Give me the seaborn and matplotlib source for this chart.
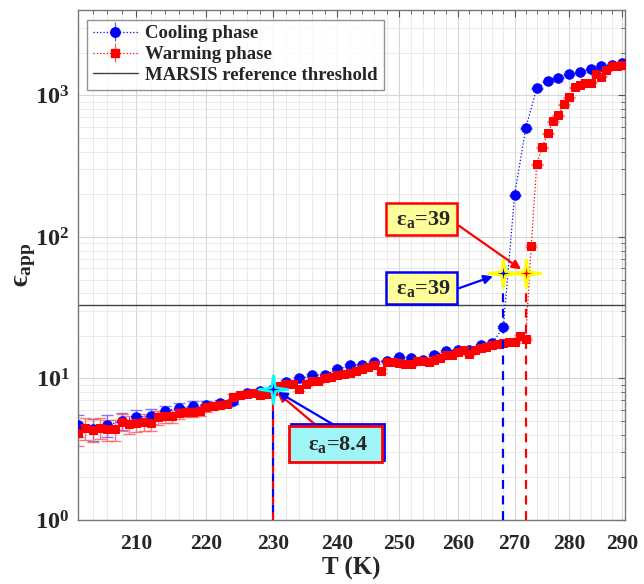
import matplotlib
matplotlib.use("Agg")
import math
import pandas as pd
import matplotlib.pyplot as plt
import seaborn as sns
from matplotlib.patches import Rectangle
from matplotlib.transforms import IdentityTransform
from matplotlib.ticker import FixedLocator, MultipleLocator, NullFormatter, FuncFormatter, LogLocator

# ---------------- DATA ----------------
# Cooling phase (every 2 K)
T_cool = [202, 204, 206, 208, 210, 212, 214, 216, 218, 220, 222, 224, 226, 228, 230,
          232, 234, 236, 238, 240, 242, 244, 246, 248, 250, 252, 254, 256, 258, 260,
          262, 264, 266, 268, 270, 272, 274, 276, 278, 280, 282, 284, 286, 288, 290]
eps_cool = [4.68, 4.39, 4.68, 5.0, 5.33, 5.42, 5.88, 6.17, 6.38, 6.5, 6.7, 6.9, 7.87, 8.1, 8.4,
            9.4, 10.0, 10.5, 10.5, 11.6, 12.4, 12.4, 13.0, 13.3, 14.1, 13.9, 13.5, 14.6, 15.6, 15.8,
            15.8, 17.2, 17.7, 23.0, 197, 584, 1119, 1254, 1337, 1405, 1451, 1524, 1600, 1626, 1707]
err_cool = [0.85, 0.75, 0.8, 0.7, 0.7, 0.65, 0.55, 0.55, 0.5, 0.45, 0.4, 0.3, 0.3, 0.3, 0.3,
            0.3, 0.3, 0.3, 0.3, 0.3, 0.3, 0.3, 0.3, 0.3, 0.3, 0.3, 0.3, 0.3, 0.3, 0.3,
            0.3, 0.3, 0.3, 0.4, 2, 5, 10, 10, 10, 10, 10, 10, 10, 10, 10]

# Warming phase (every 1 K)
T_warm = [202, 203, 204, 205, 206, 207, 208, 209, 210, 211, 212, 213, 214, 215, 216,
          217, 218, 219, 220, 221, 222, 223, 224, 225, 226, 227, 228, 229, 230, 231,
          232, 233, 234, 235, 236, 237, 238, 239, 240, 241, 242, 243, 244, 245, 246,
          247, 248, 249, 250, 251, 252, 253, 254, 255, 256, 257, 258, 259, 260, 261,
          262, 263, 264, 265, 266, 267, 268, 269, 270, 271, 272, 273, 274, 275, 276,
          277, 278, 279, 280, 281, 282, 283, 284, 285, 286, 287, 288, 289, 290]
eps_warm = [4.09, 4.48, 4.35, 4.48, 4.37, 4.37, 4.94, 4.73, 4.81, 4.92, 4.86, 5.30, 5.42, 5.42, 5.66,
            5.81, 5.81, 5.91, 6.24, 6.38, 6.50, 6.59, 7.42, 7.62, 7.80, 7.95, 7.70, 7.80, 8.10, 8.90,
            9.20, 9.10, 8.40, 9.20, 9.60, 9.60, 10.0, 10.3, 10.5, 10.8, 10.9, 11.3, 11.6, 12.1, 12.4,
            11.3, 13.1, 13.1, 12.9, 12.6, 12.6, 13.3, 13.3, 13.1, 13.6, 14.0, 14.6, 14.7, 15.4, 15.8,
            15.0, 15.8, 16.4, 16.7, 17.2, 17.5, 17.8, 18.1, 18.1, 19.9, 18.9, 86, 325, 429, 538,
            654, 721, 863, 967, 1137, 1175, 1233, 1233, 1405, 1359, 1499, 1600, 1600, 1626]
err_warm = [0.75, 0.8, 0.8, 0.75, 0.75, 0.75, 0.7, 0.7, 0.65, 0.65, 0.6, 0.6, 0.55, 0.55, 0.5,
            0.5, 0.45, 0.45, 0.4, 0.4, 0.35, 0.35, 0.3, 0.3, 0.3, 0.3, 0.3, 0.3, 0.3, 0.3,
            0.3, 0.3, 0.3, 0.3, 0.3, 0.3, 0.3, 0.3, 0.3, 0.3, 0.3, 0.3, 0.3, 0.3, 0.3,
            0.3, 0.3, 0.3, 0.3, 0.3, 0.3, 0.3, 0.3, 0.3, 0.3, 0.3, 0.3, 0.3, 0.3, 0.3,
            0.3, 0.3, 0.3, 0.3, 0.3, 0.3, 0.3, 0.3, 0.3, 0.3, 0.3, 1, 3, 4, 5,
            6, 7, 8, 9, 10, 10, 10, 10, 10, 10, 10, 10, 10, 10]

marsis_threshold = 33

# transition points (T, eps) and their labels
star_T = [230, 268, 272]
star_eps = [8.4, 56, 56]
ea_labels = ["8.4", "39", "39"]

df_cool = pd.DataFrame({"T": T_cool, "eps": eps_cool})
df_warm = pd.DataFrame({"T": T_warm, "eps": eps_warm})

# ---------------- STYLE ----------------
sns.set_style("white")
plt.rcParams["font.family"] = ["Liberation Serif", "DejaVu Serif"]
plt.rcParams["font.weight"] = "bold"
plt.rcParams["mathtext.default"] = "regular"

fig = plt.figure(figsize=(6.44, 5.84), dpi=100)
ax = fig.add_axes([0.121, 0.1096, 0.849, 0.873])
ax.set_xscale("log")
ax.set_yscale("log")

# ---------------- PLOT ----------------
ax.errorbar(T_cool, eps_cool, yerr=err_cool, fmt="none", ecolor="#5a5aff",
            elinewidth=1, capsize=4, capthick=1, alpha=0.8, zorder=2)
ax.errorbar(T_warm, eps_warm, yerr=err_warm, fmt="none", ecolor="#ff5a5a",
            elinewidth=1, capsize=4, capthick=1, alpha=0.8, zorder=2)

sns.lineplot(data=df_cool, x="T", y="eps", ax=ax, color="blue", marker="o",
             markersize=6.8, markeredgecolor="blue", linestyle=":", linewidth=0.9,
             estimator=None, legend=False, zorder=3)
sns.lineplot(data=df_warm, x="T", y="eps", ax=ax, color="red", marker="s",
             markersize=5.2, markeredgecolor="red", linestyle=":", linewidth=0.9,
             estimator=None, legend=False, zorder=4)

thr = ax.axhline(marsis_threshold, color="#404040", lw=1, zorder=1)

# dashed drop lines from the axis up to each transition star
ax.vlines(star_T[0], 1, star_eps[0], colors="red", linestyles=(0, (4, 3)), lw=1.6, zorder=5)
ax.vlines(star_T[0], 1, star_eps[0], colors="blue", linestyles=(3.5, (3.5, 3.5)), lw=1.6, zorder=5)
ax.vlines(star_T[1], 1, star_eps[1], colors="blue", linestyles=(0, (4, 3)), lw=1.6, zorder=5)
ax.vlines(star_T[2], 1, star_eps[2], colors="red", linestyles=(0, (4, 3)), lw=1.6, zorder=5)

# four pointed star markers with glow
star = [(0, 1), (0.13, 0.13), (1, 0), (0.13, -0.13), (0, -1), (-0.13, -0.13), (-1, 0), (-0.13, 0.13), (0, 1)]
glow = ["cyan", "yellow", "yellow"]
fill = ["blue", "blue", "red"]
for t, e, g, f in zip(star_T, star_eps, glow, fill):
    ax.plot(t, e, marker=star, ms=26, color=g, alpha=0.3, mew=0, zorder=6)
    ax.plot(t, e, marker=star, ms=21, markerfacecolor=f, markeredgecolor=g, mew=1.8, zorder=7)

# ---------------- ANNOTATIONS ----------------
def ea_text(v):
    return "ε$_{a}$=" + v

box_kw = dict(ha="center", va="center", fontsize=16, fontweight="bold", zorder=9)
ax.text(253.8, 133, " " + ea_text(ea_labels[2]) + " ", **box_kw,
        bbox=dict(boxstyle="square,pad=0.25", fc="#ffff99", ec="red", lw=1.8))
ax.text(253.8, 43.4, " " + ea_text(ea_labels[1]) + " ", **box_kw,
        bbox=dict(boxstyle="square,pad=0.25", fc="#ffff99", ec="blue", lw=1.8))
t84 = ax.text(239.7, 3.44, "  " + ea_text(ea_labels[0]) + "  ", **box_kw,
              bbox=dict(boxstyle="square,pad=0.35", fc="#9ff5f5", ec="red", lw=2))

arrow_r = dict(arrowstyle="-|>", color="red", lw=1.6, mutation_scale=13, shrinkA=0, shrinkB=4)
arrow_b = dict(arrowstyle="-|>", color="blue", lw=1.6, mutation_scale=13, shrinkA=0, shrinkB=4)
ax.annotate("", xy=(star_T[2], star_eps[2]), xytext=(260.2, 120), arrowprops=arrow_r, zorder=8)
ax.annotate("", xy=(star_T[1], star_eps[1]), xytext=(260.2, 43.4),
            arrowprops=dict(arrow_b, shrinkB=8), zorder=8)
ax.annotate("", xy=(star_T[0], star_eps[0]), xytext=(236.8, 4.6), arrowprops=arrow_r, zorder=8)
ax.annotate("", xy=(star_T[0], star_eps[0]), xytext=(239.8, 4.6), arrowprops=arrow_b, zorder=8)

# ---------------- AXES ----------------
ax.set_xlim(202, 290.5)
ax.set_ylim(1, 4000)
ax.xaxis.set_major_locator(FixedLocator([210, 220, 230, 240, 250, 260, 270, 280, 290]))
ax.xaxis.set_major_formatter(FuncFormatter(lambda v, p: f"{v:.0f}"))
ax.xaxis.set_minor_locator(MultipleLocator(2))
ax.xaxis.set_minor_formatter(NullFormatter())
ax.yaxis.set_major_locator(FixedLocator([1, 10, 100, 1000]))
ax.yaxis.set_major_formatter(FuncFormatter(lambda v, p: "$10^{%d}$" % round(math.log10(v))))
ax.yaxis.set_minor_locator(LogLocator(base=10, subs=range(2, 10)))
ax.yaxis.set_minor_formatter(NullFormatter())

ax.tick_params(which="both", direction="in", top=True, right=True, color="#555555")
ax.tick_params(which="major", length=5, width=0.8)
ax.tick_params(which="minor", length=3, width=0.6)
ax.tick_params(axis="x", labelsize=15.5, pad=10)
ax.tick_params(axis="y", labelsize=17.5, pad=6)
for lab in ax.get_xticklabels() + ax.get_yticklabels():
    lab.set_fontweight("bold")
    lab.set_color("#262626")

ax.grid(which="major", color="#d6d6d6", lw=0.8)
ax.grid(which="minor", color="#e6e6e6", lw=0.6)
ax.set_axisbelow(True)
for s in ax.spines.values():
    s.set_color("#777777")
    s.set_linewidth(1)

ax.set_xlabel("T (K)", fontsize=18, fontweight="bold", color="#262626", labelpad=2)
ax.set_ylabel("ϵ$_{app}$", fontsize=20, fontweight="bold", color="#262626", labelpad=-2)

# ---------------- LEGEND ----------------
h_cool = ax.errorbar([], [], yerr=[], fmt=":o", color="blue", ecolor="#5a5aff", ms=6.8,
                     lw=0.9, capsize=4, label="Cooling phase")
h_warm = ax.errorbar([], [], yerr=[], fmt=":s", color="red", ecolor="#ff5a5a", ms=5.2,
                     lw=0.9, capsize=4, label="Warming phase")
leg = ax.legend(handles=[h_cool, h_warm, thr],
                labels=["Cooling phase", "Warming phase", "MARSIS reference threshold"],
                loc="upper left", fontsize=13.5, frameon=True, fancybox=False,
                borderaxespad=0.5, handlelength=2.4, handletextpad=0.4,
                labelspacing=0.2, borderpad=0.3)
leg.get_frame().set_edgecolor("#777777")
leg.get_frame().set_linewidth(1)
for t in leg.get_texts():
    t.set_fontweight("bold")

# blue second border of the 8.4 box, slightly offset behind the red one
fig.canvas.draw()
bb = t84.get_bbox_patch().get_window_extent()
ax.add_patch(Rectangle((bb.x0 + 2, bb.y0 + 2), bb.width, bb.height, transform=IdentityTransform(),
                       fc="#9ff5f5", ec="blue", lw=2, zorder=8.9))

fig.savefig("out.png", dpi=100)
